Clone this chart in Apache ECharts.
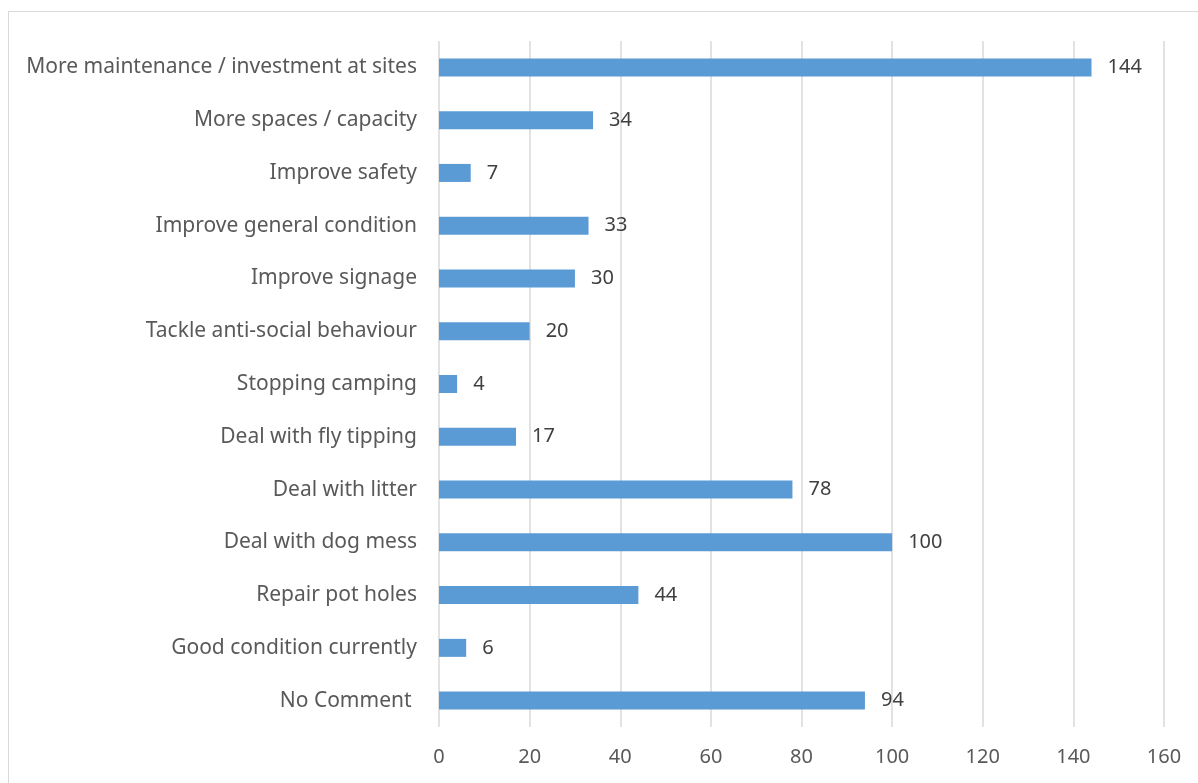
<!DOCTYPE html>
<html>
<head>
<meta charset="utf-8">
<script src="https://cdn.jsdelivr.net/npm/echarts@6/dist/echarts.min.js"></script>
<style>
html,body{margin:0;padding:0;background:#fff;width:1198px;height:783px;overflow:hidden;}
#frame{position:absolute;left:8px;top:11px;width:1300px;height:900px;border:1px solid #d9d9d9;box-sizing:border-box;}
#chart{position:absolute;left:0;top:0;width:1198px;height:783px;}
</style>
</head>
<body>
<div id="frame"></div>
<div id="chart"></div>
<script>
const categories = [
  "More maintenance / investment at sites",
  "More spaces / capacity",
  "Improve safety",
  "Improve general condition",
  "Improve signage",
  "Tackle anti-social behaviour",
  "Stopping camping",
  "Deal with fly tipping",
  "Deal with litter",
  "Deal with dog mess",
  "Repair pot holes",
  "Good condition currently",
  "No Comment "
];
const values = [144, 34, 7, 33, 30, 20, 4, 17, 78, 100, 44, 6, 94];
const xTicks = [0, 20, 40, 60, 80, 100, 120, 140, 160];

const chart = echarts.init(document.getElementById('chart'), null, {renderer: 'canvas'});
chart.setOption({
  animation: false,
  backgroundColor: 'transparent',
  grid: {left: 439, right: 34, top: 41, bottom: 56, containLabel: false},
  xAxis: {
    type: 'value',
    min: xTicks[0],
    max: xTicks[xTicks.length - 1],
    interval: 20,
    axisLine: {show: false},
    axisTick: {show: false},
    axisLabel: {color: '#595959', fontSize: 20, fontFamily: 'Noto Sans', margin: 20},
    splitLine: {show: true, lineStyle: {color: '#d9d9d9', width: 1.5}}
  },
  yAxis: {
    type: 'category',
    inverse: true,
    data: categories,
    axisLine: {show: false},
    axisTick: {show: false},
    axisLabel: {color: '#595959', fontSize: 21, fontFamily: 'Noto Sans', margin: 22}
  },
  series: [{
    type: 'bar',
    data: values,
    barWidth: 18,
    itemStyle: {color: '#5b9bd5'},
    label: {
      show: true,
      position: 'right',
      distance: 16,
      color: '#404040',
      fontSize: 20,
      fontFamily: 'Noto Sans'
    }
  }]
});
</script>
</body>
</html>
